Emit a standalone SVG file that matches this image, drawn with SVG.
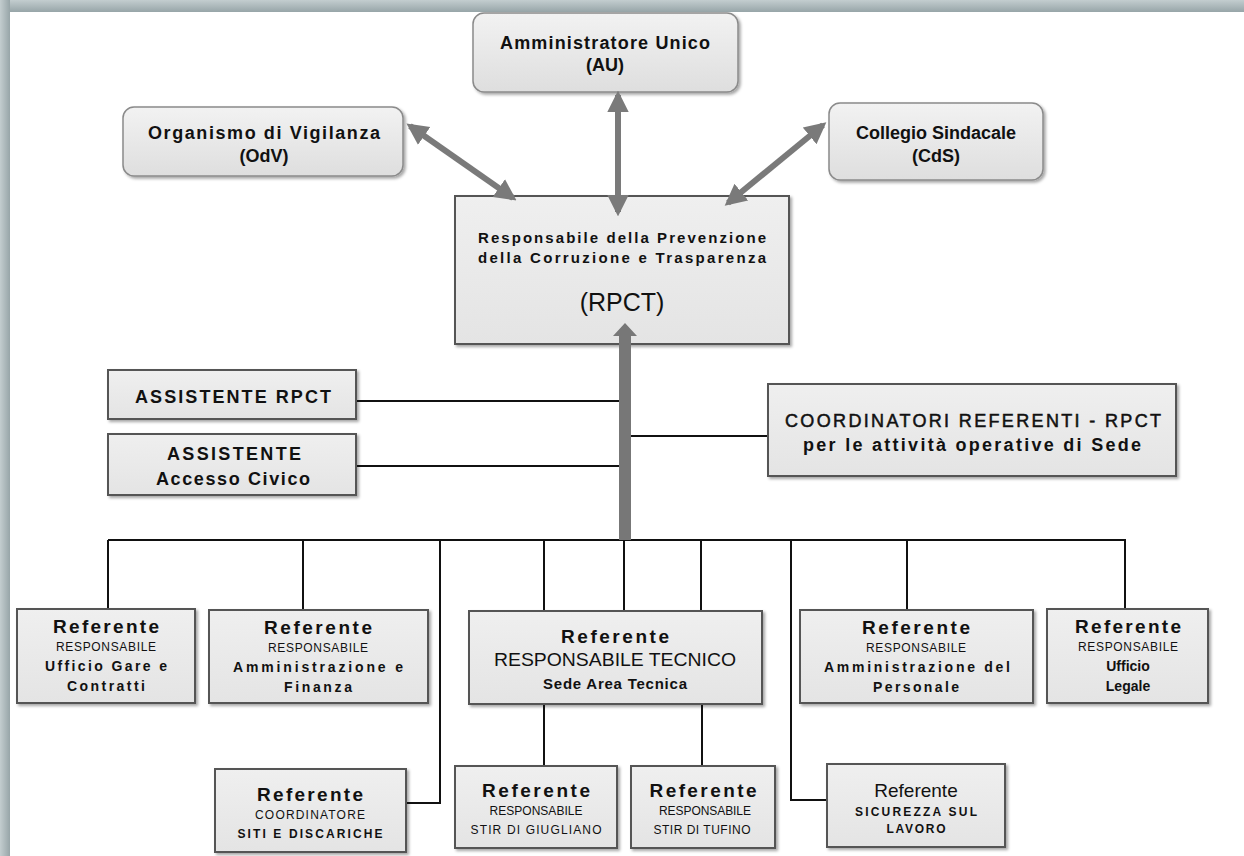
<svg xmlns="http://www.w3.org/2000/svg" width="1244" height="856" viewBox="0 0 1244 856">
  <defs>
    <linearGradient id="roundFill" x1="0" y1="0" x2="0" y2="1">
      <stop offset="0" stop-color="#f2f2f2"/>
      <stop offset="1" stop-color="#dedede"/>
    </linearGradient>
    <linearGradient id="boxFill" x1="0" y1="0" x2="0" y2="1">
      <stop offset="0" stop-color="#efefef"/>
      <stop offset="1" stop-color="#e4e4e4"/>
    </linearGradient>
    <linearGradient id="frameTop" x1="0" y1="0" x2="0" y2="1">
      <stop offset="0" stop-color="#c3cdcf"/>
      <stop offset="1" stop-color="#97a5a8"/>
    </linearGradient>
    <linearGradient id="frameLeft" x1="0" y1="0" x2="1" y2="0">
      <stop offset="0" stop-color="#c3cdcf"/>
      <stop offset="1" stop-color="#97a5a8"/>
    </linearGradient>
    <filter id="shadow" x="-10%" y="-10%" width="125%" height="130%">
      <feDropShadow dx="2" dy="2" stdDeviation="1.5" flood-color="#000" flood-opacity="0.35"/>
    </filter>
    <marker id="head" viewBox="0 0 10 10" refX="8" refY="5" markerWidth="3.6" markerHeight="4" orient="auto-start-reverse" markerUnits="strokeWidth">
      <path d="M0,0 L10,5 L0,10 z" fill="#7a7a7a"/>
    </marker>
    <style>
      text { font-family: "Liberation Sans", Arial, sans-serif; fill: #111; text-anchor: middle; }
      .b { font-weight: bold; }
      .ref { font-weight: bold; font-size: 19px; }
      .resp { font-size: 12px; }
      .unit { font-weight: bold; font-size: 14px; }
      .round { fill: url(#roundFill); stroke: #8a8a8a; stroke-width: 1.5; filter: url(#shadow); }
      .box { fill: url(#boxFill); stroke: #555; stroke-width: 2; filter: url(#shadow); }
      .line { stroke: #111; stroke-width: 2; fill: none; }
      .thick { stroke: #7a7a7a; stroke-width: 6; fill: none; marker-start: url(#head); marker-end: url(#head); }
    </style>
  </defs>

  <!-- page -->
  <rect x="0" y="0" width="1244" height="856" fill="#ffffff"/>
  <rect x="0" y="0" width="1244" height="12" fill="url(#frameTop)"/>
  <rect x="0" y="0" width="10" height="856" fill="url(#frameLeft)"/>

  <!-- top level -->
  <g id="au">
    <rect class="round" x="473" y="13" width="265" height="79" rx="11"/>
    <text class="b" x="605" y="49" font-size="18" textLength="210" lengthAdjust="spacing">Amministratore Unico</text>
    <text class="b" x="605" y="71" font-size="18">(AU)</text>
  </g>
  <g id="odv">
    <rect class="round" x="123" y="107" width="280" height="69" rx="11"/>
    <text class="b" x="264" y="139" font-size="18" textLength="232" lengthAdjust="spacing">Organismo di Vigilanza</text>
    <text class="b" x="264" y="162" font-size="18">(OdV)</text>
  </g>
  <g id="cds">
    <rect class="round" x="829" y="103" width="214" height="77" rx="11"/>
    <text class="b" x="936" y="139" font-size="18">Collegio Sindacale</text>
    <text class="b" x="936" y="162" font-size="18">(CdS)</text>
  </g>

  <g id="rpct">
    <rect class="box" x="455" y="196" width="334" height="148"/>
    <text class="b" x="622" y="243" font-size="15" textLength="288" lengthAdjust="spacing">Responsabile della Prevenzione</text>
    <text class="b" x="622" y="263" font-size="15" textLength="288" lengthAdjust="spacing">della Corruzione e Trasparenza</text>
    <text x="622" y="311" font-size="25">(RPCT)</text>
  </g>

  <!-- staff -->
  <g id="assistente-rpct">
    <rect class="box" x="108" y="370" width="248" height="49"/>
    <text class="b" x="233" y="403" font-size="18" textLength="196" lengthAdjust="spacing">ASSISTENTE RPCT</text>
  </g>
  <g id="assistente-accesso">
    <rect class="box" x="108" y="434" width="248" height="61"/>
    <text class="b" x="234" y="460" font-size="18" textLength="134" lengthAdjust="spacing">ASSISTENTE</text>
    <text class="b" x="233" y="485" font-size="18" textLength="154" lengthAdjust="spacing">Accesso Civico</text>
  </g>
  <g id="coordinatori">
    <rect class="box" x="768" y="384" width="408" height="92"/>
    <text x="973" y="427" font-size="18" stroke="#111" stroke-width="0.5" textLength="376" lengthAdjust="spacing">COORDINATORI REFERENTI - RPCT</text>
    <text class="b" x="972" y="451" font-size="18" textLength="338" lengthAdjust="spacing">per le attività operative di Sede</text>
  </g>

  <!-- referenti -->
  <g id="ref-gare">
    <rect class="box" x="17" y="609" width="178" height="94"/>
    <text class="ref" x="106" y="633" textLength="106" lengthAdjust="spacing">Referente</text>
    <text class="resp" x="106" y="651" textLength="100" lengthAdjust="spacing">RESPONSABILE</text>
    <text class="unit" x="106" y="671" textLength="122" lengthAdjust="spacing">Ufficio Gare e</text>
    <text class="unit" x="106" y="691" textLength="78" lengthAdjust="spacing">Contratti</text>
  </g>
  <g id="ref-amministrazione">
    <rect class="box" x="209" y="610" width="219" height="93"/>
    <text class="ref" x="318" y="634" textLength="108" lengthAdjust="spacing">Referente</text>
    <text class="resp" x="318" y="652" textLength="100" lengthAdjust="spacing">RESPONSABILE</text>
    <text class="unit" x="318" y="672" textLength="170" lengthAdjust="spacing">Amministrazione e</text>
    <text class="unit" x="318" y="692" textLength="68" lengthAdjust="spacing">Finanza</text>
  </g>
  <g id="ref-tecnico">
    <rect class="box" x="469" y="611" width="293" height="93"/>
    <text class="ref" x="615" y="643" font-size="20px" textLength="108" lengthAdjust="spacing">Referente</text>
    <text x="615" y="666" font-size="18" textLength="242" lengthAdjust="spacingAndGlyphs">RESPONSABILE TECNICO</text>
    <text class="b" x="615" y="689" font-size="15" textLength="144" lengthAdjust="spacing">Sede Area Tecnica</text>
  </g>
  <g id="ref-personale">
    <rect class="box" x="800" y="610" width="233" height="93"/>
    <text class="ref" x="916" y="634" textLength="108" lengthAdjust="spacing">Referente</text>
    <text class="resp" x="916" y="652" textLength="100" lengthAdjust="spacing">RESPONSABILE</text>
    <text class="unit" x="917" y="672" textLength="186" lengthAdjust="spacing">Amministrazione del</text>
    <text class="unit" x="916" y="692" textLength="86" lengthAdjust="spacing">Personale</text>
  </g>
  <g id="ref-legale">
    <rect class="box" x="1047" y="609" width="161" height="94"/>
    <text class="ref" x="1128" y="633" textLength="106" lengthAdjust="spacing">Referente</text>
    <text class="resp" x="1128" y="651" textLength="100" lengthAdjust="spacing">RESPONSABILE</text>
    <text class="unit" x="1128" y="671">Ufficio</text>
    <text class="unit" x="1128" y="691">Legale</text>
  </g>

  <g id="ref-siti">
    <rect class="box" x="215" y="769" width="191" height="83"/>
    <text class="ref" x="310" y="801" textLength="106" lengthAdjust="spacing">Referente</text>
    <text class="resp" x="310" y="819" textLength="110" lengthAdjust="spacing">COORDINATORE</text>
    <text class="b" x="310" y="838" font-size="12" textLength="145" lengthAdjust="spacing">SITI E DISCARICHE</text>
  </g>
  <g id="ref-giugliano">
    <rect class="box" x="455" y="766" width="162" height="82"/>
    <text class="ref" x="536" y="797" textLength="108" lengthAdjust="spacing">Referente</text>
    <text class="resp" x="536" y="815" font-size="11px" textLength="93" lengthAdjust="spacing">RESPONSABILE</text>
    <text x="536" y="834" font-size="12" textLength="131" lengthAdjust="spacing">STIR DI GIUGLIANO</text>
  </g>
  <g id="ref-tufino">
    <rect class="box" x="631" y="766" width="144" height="82"/>
    <text class="ref" x="703" y="797" textLength="107" lengthAdjust="spacing">Referente</text>
    <text class="resp" x="705" y="815" font-size="11px" textLength="92" lengthAdjust="spacing">RESPONSABILE</text>
    <text x="702" y="834" font-size="12" textLength="97" lengthAdjust="spacing">STIR DI TUFINO</text>
  </g>
  <g id="ref-sicurezza">
    <rect class="box" x="827" y="764" width="178" height="83"/>
    <text x="916" y="797" font-size="19">Referente</text>
    <text class="b" x="916" y="816" font-size="12" textLength="122" lengthAdjust="spacing">SICUREZZA SUL</text>
    <text class="b" x="916" y="833" font-size="12" textLength="59" lengthAdjust="spacing">LAVORO</text>
  </g>

  <!-- connectors -->
  <g id="connectors">
    <line class="thick" x1="410" y1="126" x2="513" y2="198"/>
    <line class="thick" x1="618" y1="95" x2="618" y2="212"/>
    <line class="thick" x1="823" y1="125" x2="728" y2="203"/>

    <line class="line" x1="357" y1="401" x2="620" y2="401"/>
    <line class="line" x1="357" y1="466" x2="629" y2="466"/>
    <line class="line" x1="630" y1="436" x2="767" y2="436"/>

    <line class="line" x1="108" y1="540" x2="1126" y2="540"/>
    <line class="line" x1="108" y1="540" x2="108" y2="608"/>
    <line class="line" x1="303" y1="540" x2="303" y2="609"/>
    <polyline class="line" points="440,540 440,803 407,803"/>
    <line class="line" x1="544" y1="540" x2="544" y2="610"/>
    <line class="line" x1="624" y1="540" x2="624" y2="610"/>
    <line class="line" x1="701" y1="540" x2="701" y2="610"/>
    <polyline class="line" points="791,540 791,800 826,800"/>
    <line class="line" x1="907" y1="540" x2="907" y2="609"/>
    <line class="line" x1="1125" y1="540" x2="1125" y2="608"/>

    <line class="line" x1="544" y1="705" x2="544" y2="765"/>
    <line class="line" x1="702" y1="705" x2="702" y2="765"/>

    <!-- upward arrow into RPCT -->
    <path d="M619,540 L619,336 L613,336 L625,323 L637,336 L631,336 L631,540 z" fill="#777"/>
  </g>
</svg>
